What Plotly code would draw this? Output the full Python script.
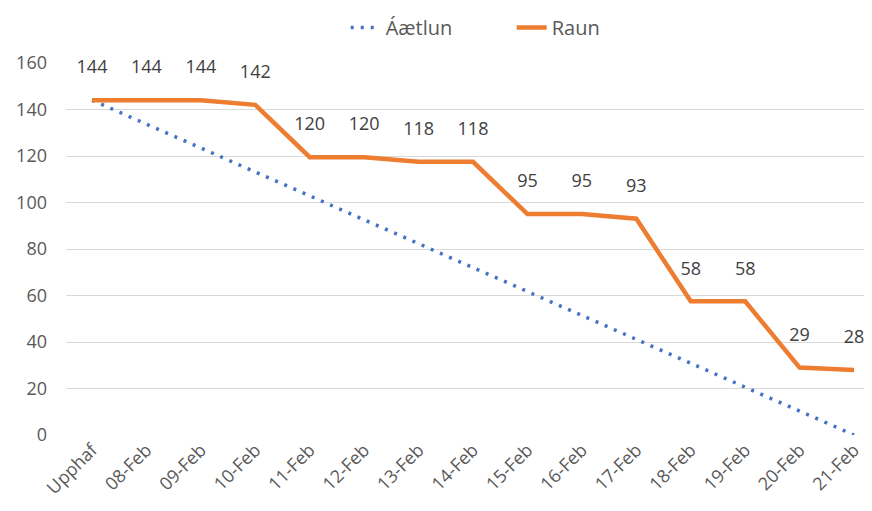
import plotly.graph_objects as go

categories = ["Upphaf", "08-Feb", "09-Feb", "10-Feb", "11-Feb", "12-Feb", "13-Feb",
              "14-Feb", "15-Feb", "16-Feb", "17-Feb", "18-Feb", "19-Feb", "20-Feb", "21-Feb"]
aetlun = [144, 133.7, 123.4, 113.1, 102.9, 92.6, 82.3, 72.0, 61.7, 51.4, 41.1, 30.9, 20.6, 10.3, 0]
raun = [144, 144, 144, 142, 119.5, 119.5, 117.5, 117.5, 95, 95, 93, 57.5, 57.5, 29, 28]
raun_labels = ["144", "144", "144", "142", "120", "120", "118", "118", "95", "95", "93", "58", "58", "29", "28"]

FONT = "Open Sans"
GRAY = "#595959"

fig = go.Figure()
fig.add_trace(go.Scatter(
    x=list(range(len(categories))), y=aetlun, name="Áætlun", mode="lines",
    line=dict(color="#4472C4", width=3.5, dash="3px,7px"),
))
fig.add_trace(go.Scatter(
    x=list(range(len(categories))), y=raun, name="Raun", mode="lines+markers+text",
    line=dict(color="#ED7D31", width=4.5),
    marker=dict(size=34, color="rgba(0,0,0,0)"),
    text=raun_labels, textposition="top center",
    textfont=dict(family=FONT, size=18, color="#404040"),
    cliponaxis=False,
))

fig.update_layout(
    width=864, height=503,
    margin=dict(l=58, r=0, t=54, b=76),
    paper_bgcolor="white", plot_bgcolor="white",
    font=dict(family=FONT, size=18, color=GRAY),
    showlegend=True,
    legend=dict(orientation="h", x=0.553, xanchor="center", y=1.094, yanchor="middle",
                font=dict(family=FONT, size=20, color=GRAY),
                entrywidth=121, entrywidthmode="pixels"),
    xaxis=dict(
        tickmode="array", tickvals=list(range(len(categories))), ticktext=categories,
        range=[-0.478, 14.33], tickangle=-45, showgrid=False, zeroline=False,
        showline=False, ticks="", automargin=False,
        tickfont=dict(family=FONT, size=18, color=GRAY),
    ),
    yaxis=dict(
        range=[0, 160], dtick=20, showgrid=True, gridcolor="#D9D9D9", gridwidth=1,
        zeroline=False, showline=False, ticks="", automargin=False,
        ticklabelstandoff=18,
        tickfont=dict(family=FONT, size=18, color=GRAY),
    ),
)
fig.write_html("out.html")
